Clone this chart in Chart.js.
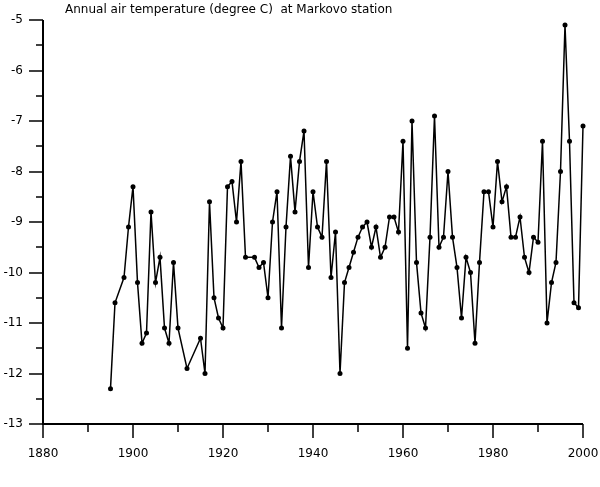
<!DOCTYPE html>
<html>
<head>
<meta charset="utf-8">
<script src="https://cdn.jsdelivr.net/npm/chart.js@4"></script>
<style>
  html, body { margin: 0; padding: 0; background: #fff; }
  #wrap { width: 600px; height: 487px; }
</style>
</head>
<body>
<div id="wrap"><canvas id="myChart" width="600" height="487"></canvas></div>
<script>
// years with data (gaps: 1897, 1911, 1913, 1914, 1926)
const years = [1895, 1896, 1898, 1899, 1900, 1901, 1902, 1903, 1904, 1905, 1906, 1907, 1908, 1909, 1910,
  1912, 1915, 1916, 1917, 1918, 1919, 1920, 1921, 1922, 1923, 1924, 1925, 1927, 1928, 1929, 1930,
  1931, 1932, 1933, 1934, 1935, 1936, 1937, 1938, 1939, 1940, 1941, 1942, 1943, 1944, 1945, 1946,
  1947, 1948, 1949, 1950, 1951, 1952, 1953, 1954, 1955, 1956, 1957, 1958, 1959, 1960, 1961, 1962,
  1963, 1964, 1965, 1966, 1967, 1968, 1969, 1970, 1971, 1972, 1973, 1974, 1975, 1976, 1977, 1978,
  1979, 1980, 1981, 1982, 1983, 1984, 1985, 1986, 1987, 1988, 1989, 1990, 1991, 1992, 1993, 1994,
  1995, 1996, 1997, 1998, 1999, 2000];
const temps = [-12.3, -10.6, -10.1, -9.1, -8.3, -10.2, -11.4, -11.2, -8.8, -10.2, -9.7, -11.1, -11.4, -9.8, -11.1,
  -11.9, -11.3, -12.0, -8.6, -10.5, -10.9, -11.1, -8.3, -8.2, -9.0, -7.8, -9.7, -9.7, -9.9, -9.8, -10.5,
  -9.0, -8.4, -11.1, -9.1, -7.7, -8.8, -7.8, -7.2, -9.9, -8.4, -9.1, -9.3, -7.8, -10.1, -9.2, -12.0,
  -10.2, -9.9, -9.6, -9.3, -9.1, -9.0, -9.5, -9.1, -9.7, -9.5, -8.9, -8.9, -9.2, -7.4, -11.5, -7.0,
  -9.8, -10.8, -11.1, -9.3, -6.9, -9.5, -9.3, -8.0, -9.3, -9.9, -10.9, -9.7, -10.0, -11.4, -9.8, -8.4,
  -8.4, -9.1, -7.8, -8.6, -8.3, -9.3, -9.3, -8.9, -9.7, -10.0, -9.3, -9.4, -7.4, -11.0, -10.2, -9.8,
  -8.0, -5.1, -7.4, -10.6, -10.7, -7.1];

const xTicks = [1880, 1890, 1900, 1910, 1920, 1930, 1940, 1950, 1960, 1970, 1980, 1990, 2000];
const yTicks = [-13, -12.5, -12, -11.5, -11, -10.5, -10, -9.5, -9, -8.5, -8, -7.5, -7, -6.5, -6, -5.5, -5];
const title = 'Annual air temperature (degree C)  at Markovo station';

const FONT = '"DejaVu Sans", Verdana, sans-serif';

// axis lines, major/minor ticks and the title
const axesPlugin = {
  id: 'axesPlugin',
  afterDraw(chart) {
    const c = chart.ctx;
    const xs = chart.scales.x, ys = chart.scales.y;
    c.save();
    c.strokeStyle = '#000';
    c.lineWidth = 2;
    c.beginPath();
    c.moveTo(xs.left, ys.getPixelForValue(-5));
    c.lineTo(xs.left, ys.getPixelForValue(-13));
    c.lineTo(xs.right, ys.getPixelForValue(-13));
    c.stroke();
    c.lineWidth = 1.5;
    xTicks.forEach(v => {
      const px = Math.round(xs.getPixelForValue(v));
      const len = v % 20 === 0 ? 14 : 8;
      c.beginPath();
      c.moveTo(px, ys.bottom);
      c.lineTo(px, ys.bottom + len);
      c.stroke();
    });
    yTicks.forEach(v => {
      const py = Math.round(ys.getPixelForValue(v));
      const len = Number.isInteger(v) ? 14 : 7;
      c.beginPath();
      c.moveTo(xs.left, py);
      c.lineTo(xs.left - len, py);
      c.stroke();
    });
    c.fillStyle = '#000';
    c.font = '12px ' + FONT;
    c.textAlign = 'left';
    c.textBaseline = 'middle';
    c.fillText(title, 65, 10);
    c.restore();
  }
};

const ctx = document.getElementById('myChart');

new Chart(ctx, {
  type: 'line',
  data: {
    datasets: [{
      label: 'Annual air temperature',
      data: years.map((y, i) => ({ x: y, y: temps[i] })),
      borderColor: '#000',
      backgroundColor: '#000',
      borderWidth: 1.5,
      pointRadius: 2.5,
      pointBackgroundColor: '#000',
      pointBorderWidth: 0,
      tension: 0,
      clip: false
    }]
  },
  options: {
    responsive: false,
    animation: false,
    layout: { padding: { top: 20, right: 17, bottom: 0, left: 0 } },
    plugins: {
      legend: { display: false },
      tooltip: { enabled: false }
    },
    scales: {
      x: {
        type: 'linear',
        min: 1880,
        max: 2000,
        grid: { display: false, drawTicks: false },
        border: { display: false },
        ticks: {
          stepSize: 20,
          padding: 23,
          color: '#000',
          font: { family: FONT, size: 12 },
          callback: v => String(v)
        },
        afterFit(scale) {
          scale.height = 63;
          scale.paddingLeft = 0;
          scale.paddingRight = 0;
        }
      },
      y: {
        min: -13,
        max: -5,
        grid: { display: false, drawTicks: false },
        border: { display: false },
        ticks: {
          stepSize: 1,
          padding: 20,
          color: '#000',
          font: { family: FONT, size: 12 }
        },
        afterFit(scale) {
          scale.width = 43;
          scale.paddingTop = 0;
          scale.paddingBottom = 0;
        }
      }
    }
  },
  plugins: [axesPlugin]
});
</script>
</body>
</html>
